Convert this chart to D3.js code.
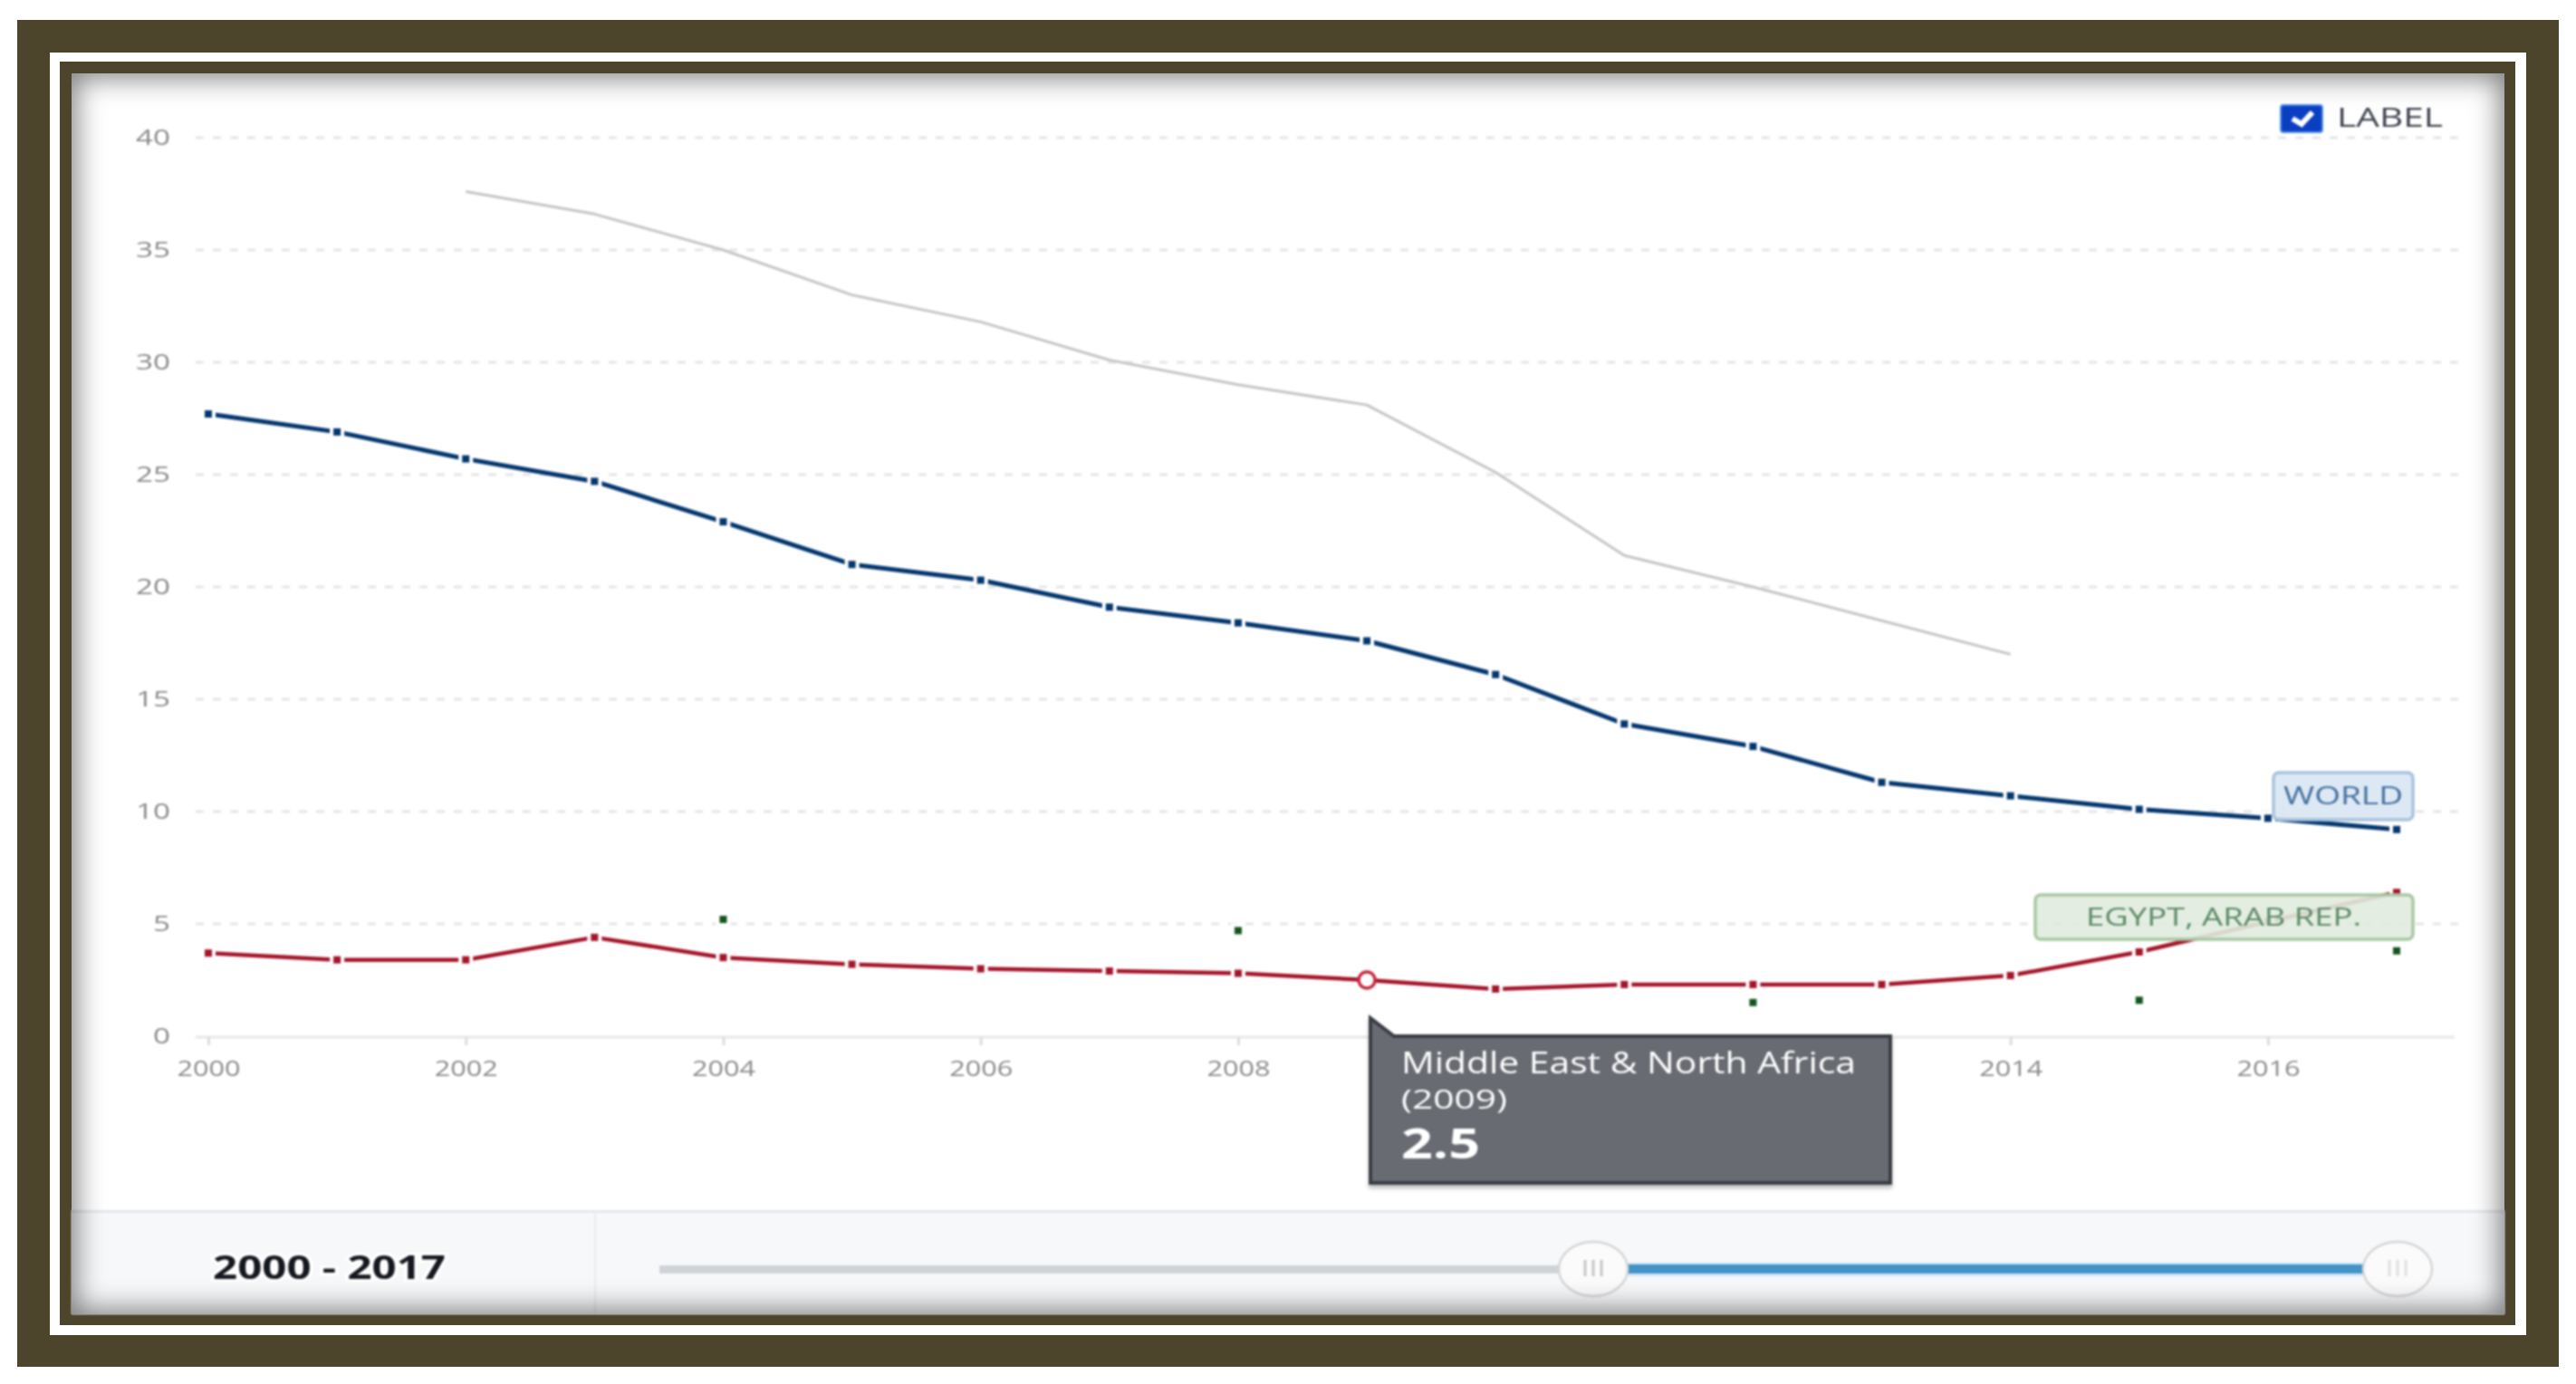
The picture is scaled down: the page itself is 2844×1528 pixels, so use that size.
<!DOCTYPE html>
<html>
<head>
<meta charset="utf-8">
<title>Chart</title>
<script src="https://cdn.jsdelivr.net/npm/d3@7"></script>
<style>
  html, body { margin: 0; padding: 0; background: #fff; }
  #wrap { position: relative; width: 2844px; height: 1528px; overflow: hidden; }
  svg { position: absolute; left: 0; top: 0; font-family: "Open Sans", sans-serif; }
  /* soft shadow on the inner edge of the picture frame */
  #edge { position: absolute; left: 79px; top: 81px; width: 2686px; height: 1370px;
          box-shadow: inset 0 0 30px 5px rgba(0,0,0,0.5); pointer-events: none; }
  .blurry { filter: blur(1px); }
</style>
</head>
<body>
<div id="wrap"><div id="edge"></div></div>
<script>
const years = d3.range(2000, 2018);
const yTicks = [0, 5, 10, 15, 20, 25, 30, 35, 40];
// 2010 and 2012 sit behind the tooltip in the picture, so they are left out
const xTicks = [2000, 2002, 2004, 2006, 2008, 2014, 2016];

const highIncomeless = [null, null, 37.6, 36.6, 35.0, 33.0, 31.8, 30.1, 29.0, 28.1, 25.1, 21.4, 20.0, 18.5, 17.0, null, null, null];
const world = [27.7, 26.9, 25.7, 24.7, 22.9, 21.0, 20.3, 19.1, 18.4, 17.6, 16.1, 13.9, 12.9, 11.3, 10.7, 10.1, 9.7, 9.2];
const mena = [3.7, 3.4, 3.4, 4.4, 3.5, 3.2, 3.0, 2.9, 2.8, 2.5, 2.1, 2.3, 2.3, 2.3, 2.7, 3.75, 5.1, 6.4];
const egypt = [null, null, null, null, 5.2, null, null, null, 4.7, null, null, null, 1.5, null, null, 1.6, null, 3.8];

const FRAME = "#4c452c";
const BLUE = "#04376f";
const RED = "#a5152a";
const GREEN = "#14551f";

const svg = d3.select("#wrap").insert("svg", "#edge")
  .attr("width", 2844)
  .attr("height", 1528);

// frame: dark band, white gap, dark band, white panel
function box(parent, x0, y0, x1, y1, fill) {
  return parent.append("rect")
    .attr("x", x0).attr("y", y0)
    .attr("width", x1 - x0).attr("height", y1 - y0)
    .attr("fill", fill);
}
box(svg, 19, 22, 2825, 1509, FRAME);
box(svg, 55, 58, 2789, 1474, "#fff");
box(svg, 66, 68, 2777, 1463, FRAME);
box(svg, 79, 81, 2765, 1451, "#fff");

const chart = svg.append("g").attr("class", "blurry");

// squeeze or stretch a text to the width it has in the picture
function fit(sel, w) {
  return sel.attr("textLength", w).attr("lengthAdjust", "spacingAndGlyphs");
}

const x = d3.scaleLinear().domain([2000, 2017]).range([230, 2646]);
const y = d3.scaleLinear().domain([0, 40]).range([1144, 152]);

// grid
chart.append("g")
  .selectAll("line")
  .data(yTicks.filter(d => d > 0))
  .join("line")
  .attr("x1", 216).attr("x2", 2718)
  .attr("y1", d => y(d)).attr("y2", d => y(d))
  .attr("stroke", "#e6e6e6")
  .attr("stroke-width", 3)
  .attr("stroke-dasharray", "9 10");

// axes
const yAxis = chart.append("g")
  .attr("transform", "translate(188,0)")
  .call(d3.axisLeft(y).tickValues(yTicks).tickSize(0).tickPadding(0));
yAxis.select(".domain").remove();
yAxis.selectAll("text")
  .attr("font-size", 23)
  .attr("font-family", "Open Sans")
  .attr("fill", "#8a8a8a");
yAxis.selectAll("text").each(function (d) {
  fit(d3.select(this), String(d).length * 19);
});

const xAxis = chart.append("g")
  .attr("transform", "translate(0,1145)")
  .call(d3.axisBottom(x).tickValues(xTicks).tickFormat(d3.format("d")).tickSize(9).tickPadding(18));
xAxis.select(".domain")
  .attr("d", "M216,0H2710")
  .attr("stroke", "#e8e8e8")
  .attr("stroke-width", 3);
xAxis.selectAll("line").attr("stroke", "#dddddd").attr("stroke-width", 3);
xAxis.selectAll("text")
  .attr("font-size", 23)
  .attr("font-family", "Open Sans")
  .attr("fill", "#8a8a8a");
fit(xAxis.selectAll("text"), 70);

// lines
const line = d3.line()
  .defined(d => d.v !== null)
  .x(d => x(d.year))
  .y(d => y(d.v));

function toPoints(values) {
  return years.map((year, i) => ({ year: year, v: values[i] }));
}

function drawLine(values, color, width) {
  chart.append("path")
    .datum(toPoints(values))
    .attr("d", line)
    .attr("fill", "none")
    .attr("stroke", color)
    .attr("stroke-width", width)
    .attr("stroke-linejoin", "round");
}

function drawMarkers(values, color) {
  chart.append("g")
    .selectAll("path")
    .data(toPoints(values).filter(d => d.v !== null))
    .join("path")
    .attr("d", d3.symbol(d3.symbolSquare, 64))
    .attr("transform", d => `translate(${x(d.year)},${y(d.v)})`)
    .attr("fill", color)
    .attr("stroke", "#fff")
    .attr("stroke-width", 8)
    .attr("paint-order", "stroke");
}

drawLine(highIncomeless, "#c6c6c6", 3);
drawLine(world, BLUE, 5);
drawLine(mena, RED, 4.5);
drawMarkers(world, BLUE);
drawMarkers(mena, RED);
drawMarkers(egypt, GREEN);

// hovered point
chart.append("circle")
  .attr("cx", x(2009)).attr("cy", y(mena[9]))
  .attr("r", 9)
  .attr("fill", "#fff")
  .attr("stroke", "#c62a3c")
  .attr("stroke-width", 3.5);

// series labels
function seriesLabel(text, x0, y0, x1, y1, fill, stroke, textColor, textX, textW, baseline) {
  box(chart, x0, y0, x1, y1, fill)
    .attr("rx", 6)
    .attr("stroke", stroke)
    .attr("stroke-width", 3.5);
  fit(chart.append("text")
    .attr("x", textX).attr("y", baseline)
    .attr("font-size", 28)
    .attr("fill", textColor)
    .text(text), textW);
}
seriesLabel("WORLD", 2510, 853, 2664, 905, "rgba(217,230,243,0.93)", "#a9c3de", "#46709f", 2521, 132, 888);
seriesLabel("EGYPT, ARAB REP.", 2247, 988, 2664, 1037, "rgba(224,235,222,0.9)", "#a8c8a3", "#5b8a66", 2303, 304, 1022);

// checkbox
box(chart, 2518, 116, 2564, 146, "#0a3fc2")
  .attr("rx", 3)
  .attr("stroke", "#4f8fe8")
  .attr("stroke-width", 2);
chart.append("path")
  .attr("d", "M2531,131 L2541,137 L2553,124")
  .attr("fill", "none")
  .attr("stroke", "#fff")
  .attr("stroke-width", 6);
fit(chart.append("text")
  .attr("x", 2580).attr("y", 140)
  .attr("font-size", 29)
  .attr("fill", "#3f4450")
  .text("LABEL"), 117);

// bottom strip with the year range and slider
box(chart, 79, 1337, 2765, 1451, "#f7f8fa");
box(chart, 79, 1336, 2765, 1339, "#e5e7ea");
box(chart, 656, 1337, 658, 1451, "#e9ebee");

fit(chart.append("text")
  .attr("x", 235).attr("y", 1412)
  .attr("font-size", 36)
  .attr("font-weight", 700)
  .attr("fill", "#14181f")
  .attr("stroke", "#fff")
  .attr("stroke-width", 6)
  .attr("paint-order", "stroke")
  .text("2000 - 2017"), 257);

box(chart, 728, 1397, 1730, 1406, "#cfd3d8");
box(chart, 1790, 1394, 2620, 1409, "#cfe5f6");
box(chart, 1790, 1396, 2620, 1406, "#4393c6");

[[1759, "#c6c6c6"], [2647, "#e2dfe2"]].forEach(([cx, bar]) => {
  chart.append("ellipse")
    .attr("cx", cx).attr("cy", 1401)
    .attr("rx", 38).attr("ry", 30)
    .attr("fill", "#fbfbfb")
    .attr("stroke", "#d6d6d6")
    .attr("stroke-width", 2.5);
  [-9, 0, 9].forEach(dx => {
    box(chart, cx + dx - 1.5, 1391, cx + dx + 1.5, 1409, bar);
  });
});

// tooltip
const tip = d3.path();
tip.moveTo(1513, 1124);
tip.lineTo(1539, 1144);
tip.lineTo(2087, 1144);
tip.lineTo(2087, 1306);
tip.lineTo(1513, 1306);
tip.closePath();
chart.append("path")
  .attr("d", tip.toString())
  .attr("fill", "#686b72")
  .attr("stroke", "#3a3d44")
  .attr("stroke-width", 4)
  .style("filter", "drop-shadow(0 4px 2px rgba(0,0,0,0.25))");

fit(chart.append("text")
  .attr("x", 1547).attr("y", 1185)
  .attr("font-size", 32)
  .attr("fill", "#fff")
  .text("Middle East & North Africa"), 502);
fit(chart.append("text")
  .attr("x", 1547).attr("y", 1224)
  .attr("font-size", 29)
  .attr("fill", "#fff")
  .text("(2009)"), 117);
fit(chart.append("text")
  .attr("x", 1547).attr("y", 1279)
  .attr("font-size", 46)
  .attr("font-weight", 700)
  .attr("fill", "#fff")
  .text(d3.format(".1f")(mena[9])), 87);
</script>
</body>
</html>
